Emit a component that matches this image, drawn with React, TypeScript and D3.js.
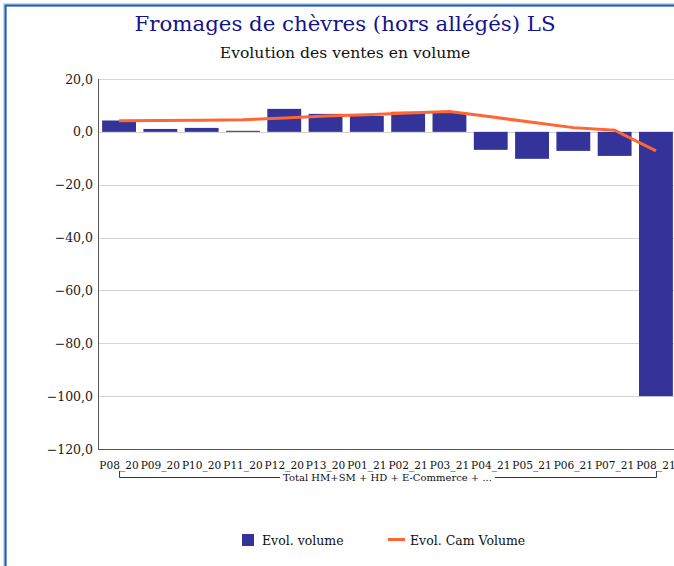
import React, { useEffect, useRef } from "react";
import * as d3 from "d3";

// periods on the x axis
const periods = [
  "P08_20", "P09_20", "P10_20", "P11_20", "P12_20", "P13_20", "P01_21",
  "P02_21", "P03_21", "P04_21", "P05_21", "P06_21", "P07_21", "P08_21",
];

// Evol. volume (bars)
const evolVolume = [4.3, 1.1, 1.5, 0.4, 8.7, 6.8, 6.0, 7.6, 7.3, -6.8, -10.2, -7.2, -9.1, -100.0];

// Evol. Cam Volume (line)
const evolCamVolume = [4.2, 4.3, 4.4, 4.6, 5.2, 6.0, 6.5, 7.1, 7.7, 5.7, 3.6, 1.6, 0.6, -7.2];

const yTicks = [20, 0, -20, -40, -60, -80, -100, -120];

const title = "Fromages de chèvres (hors allégés) LS";
const subtitle = "Evolution des ventes en volume";
const groupLabel = "Total HM+SM + HD + E-Commerce + ...";
const seriesNames = ["Evol. volume", "Evol. Cam Volume"];

const BAR_COLOR = "#333399";
const LINE_COLOR = "#ff6633";
const FONT = "'DejaVu Serif', serif";

function App() {
  const svgRef = useRef<SVGSVGElement>(null);

  useEffect(() => {
    const width = 674;
    const height = 566;
    const marginLeft = 98;
    const plotRight = 677;
    const plotTop = 79;
    const plotBottom = 449;

    const svg = d3.select(svgRef.current)
      .attr("width", width)
      .attr("height", height);

    svg.selectAll("*").remove();

    svg.append("rect")
      .attr("width", width)
      .attr("height", height)
      .attr("fill", "#fff");

    // frame (top and left edge)
    svg.append("path")
      .attr("d", `M5,${height} V5 H${width}`)
      .attr("fill", "none")
      .attr("stroke", "#c8d8ee")
      .attr("stroke-width", 4);
    svg.append("path")
      .attr("d", `M5.5,${height} V5.5 H${width}`)
      .attr("fill", "none")
      .attr("stroke", "#1f5fb0")
      .attr("stroke-width", 2);

    const x = d3.scaleBand()
      .domain(periods)
      .range([marginLeft, plotRight])
      .paddingInner(0.18)
      .paddingOuter(0.1);

    const y = d3.scaleLinear()
      .domain([-120, 20])
      .range([plotBottom, plotTop]);

    // titles
    svg.append("text")
      .attr("x", 345)
      .attr("y", 31)
      .attr("text-anchor", "middle")
      .attr("font-family", FONT)
      .attr("font-size", 21.3)
      .attr("fill", "#14148c")
      .text(title);

    svg.append("text")
      .attr("x", 345)
      .attr("y", 58)
      .attr("text-anchor", "middle")
      .attr("font-family", FONT)
      .attr("font-size", 15.6)
      .attr("fill", "#111")
      .text(subtitle);

    // grid lines
    svg.append("g")
      .selectAll("line")
      .data(yTicks.filter(t => t !== -120))
      .join("line")
      .attr("x1", marginLeft)
      .attr("x2", width)
      .attr("y1", d => Math.round(y(d)) + 0.5)
      .attr("y2", d => Math.round(y(d)) + 0.5)
      .attr("stroke", "#d4d4d4");

    // y labels
    svg.append("g")
      .selectAll("text")
      .data(yTicks)
      .join("text")
      .attr("x", 93)
      .attr("y", d => y(d) + 4.5)
      .attr("text-anchor", "end")
      .attr("font-family", FONT)
      .attr("font-size", 12.5)
      .attr("fill", "#1a1a1a")
      .text(d => d3.format(".1f")(d).replace(".", ","));

    // bars
    svg.append("g")
      .selectAll("rect")
      .data(evolVolume)
      .join("rect")
      .attr("x", (d, i) => x(periods[i])!)
      .attr("width", x.bandwidth())
      .attr("y", d => y(Math.max(0, d)))
      .attr("height", d => Math.abs(y(d) - y(0)))
      .attr("fill", BAR_COLOR);

    // axes lines
    svg.append("line")
      .attr("x1", marginLeft + 0.5)
      .attr("x2", marginLeft + 0.5)
      .attr("y1", plotTop)
      .attr("y2", plotBottom)
      .attr("stroke", "#555");
    svg.append("line")
      .attr("x1", marginLeft)
      .attr("x2", width)
      .attr("y1", plotBottom + 0.5)
      .attr("y2", plotBottom + 0.5)
      .attr("stroke", "#555");

    // line
    const line = d3.line<number>()
      .x((d, i) => x(periods[i])! + x.bandwidth() / 2)
      .y(d => y(d));

    svg.append("path")
      .datum(evolCamVolume)
      .attr("d", line)
      .attr("fill", "none")
      .attr("stroke", LINE_COLOR)
      .attr("stroke-width", 3);

    // x labels
    svg.append("g")
      .selectAll("text")
      .data(periods)
      .join("text")
      .attr("x", d => x(d)! + x.bandwidth() / 2)
      .attr("y", 469)
      .attr("text-anchor", "middle")
      .attr("font-family", FONT)
      .attr("font-size", 10.6)
      .attr("fill", "#111")
      .text(d => d);

    // group label with bracket
    const gx1 = x(periods[0])! + x.bandwidth() / 2;
    const gx2 = x(periods[periods.length - 1])! + x.bandwidth() / 2;
    const gmid = (gx1 + gx2) / 2;
    const gText = svg.append("text")
      .attr("x", gmid)
      .attr("y", 481)
      .attr("text-anchor", "middle")
      .attr("font-family", FONT)
      .attr("font-size", 10)
      .attr("fill", "#111")
      .text(groupLabel);
    const tw = (gText.node() as SVGTextElement).getComputedTextLength();
    svg.append("path")
      .attr("d", `M${gx1 + 0.5},471 V477.5 H${gmid - tw / 2 - 3} M${gmid + tw / 2 + 3},477.5 H${gx2 + 0.5} V471`)
      .attr("fill", "none")
      .attr("stroke", "#333");

    // legend
    svg.append("rect")
      .attr("x", 242)
      .attr("y", 534)
      .attr("width", 12)
      .attr("height", 12)
      .attr("fill", BAR_COLOR);
    svg.append("text")
      .attr("x", 262)
      .attr("y", 545)
      .attr("font-family", FONT)
      .attr("font-size", 12.5)
      .attr("fill", "#111")
      .text(seriesNames[0]);
    svg.append("line")
      .attr("x1", 388)
      .attr("x2", 405)
      .attr("y1", 539.5)
      .attr("y2", 539.5)
      .attr("stroke", LINE_COLOR)
      .attr("stroke-width", 3);
    svg.append("text")
      .attr("x", 410)
      .attr("y", 545)
      .attr("font-family", FONT)
      .attr("font-size", 12.5)
      .attr("fill", "#111")
      .text(seriesNames[1]);
  }, []);

  return (
    <svg
      ref={svgRef}
      style={{ position: "absolute", left: 0, top: 0, display: "block" }}
    ></svg>
  );
}

export default App;
